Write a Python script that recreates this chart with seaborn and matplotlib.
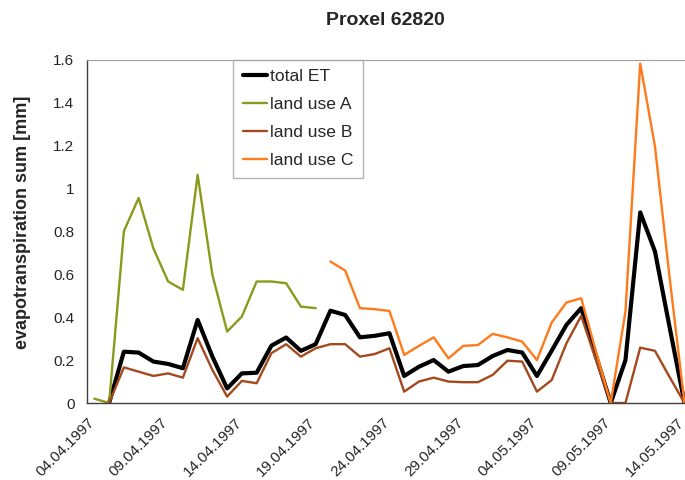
import matplotlib
matplotlib.use("Agg")
import matplotlib.pyplot as plt
import matplotlib.dates as mdates
import numpy as np
import pandas as pd
import seaborn as sns

nan = np.nan

# daily values 04.04.1997 - 14.05.1997
days = pd.date_range("1997-04-04", "1997-05-14", freq="D")

total_et = [nan, 0.0, 0.239, 0.235, 0.193, 0.182, 0.162, 0.387, 0.216, 0.068,
            0.138, 0.141, 0.267, 0.305, 0.243, 0.274, 0.43, 0.41, 0.306, 0.313,
            0.325, 0.126, 0.169, 0.2, 0.146, 0.172, 0.177, 0.219, 0.247, 0.235,
            0.126, 0.244, 0.364, 0.442, 0.22, 0.0, 0.2, 0.888, 0.706, 0.35, 0.0]
land_a = [0.02, 0.0, 0.80, 0.955, 0.72, 0.566, 0.527, 1.063, 0.597, 0.333,
          0.403, 0.566, 0.566, 0.558, 0.449, 0.442, nan, nan, nan, nan,
          nan, nan, nan, nan, nan, nan, nan, nan, nan, nan,
          nan, nan, nan, nan, nan, nan, nan, nan, nan, nan, nan]
land_b = [nan, 0.0, 0.166, 0.146, 0.126, 0.138, 0.118, 0.302, 0.154, 0.03,
          0.103, 0.092, 0.232, 0.274, 0.216, 0.255, 0.274, 0.274, 0.216, 0.228,
          0.255, 0.053, 0.1, 0.118, 0.1, 0.097, 0.097, 0.131, 0.197, 0.193,
          0.053, 0.107, 0.278, 0.406, 0.2, 0.0, 0.0, 0.258, 0.243, 0.12, 0.0]
land_c = [nan, nan, nan, nan, nan, nan, nan, nan, nan, nan,
          nan, nan, nan, nan, nan, nan, 0.659, 0.617, 0.442, 0.437,
          0.429, 0.224, 0.266, 0.306, 0.208, 0.266, 0.27, 0.322, 0.306, 0.286,
          0.2, 0.375, 0.468, 0.488, 0.24, 0.0, 0.426, 1.581, 1.195, 0.58, 0.0]

series = {"total ET": total_et, "land use A": land_a,
          "land use B": land_b, "land use C": land_c}
colors = {"total ET": "black", "land use A": "#8a9a1c",
          "land use B": "#a4481e", "land use C": "#ff7a1a"}
widths = {"total ET": 3.0, "land use A": 1.7, "land use B": 1.7, "land use C": 1.7}

sns.set_style("white")
plt.rcParams["font.family"] = ["Liberation Sans", "DejaVu Sans"]

fig = plt.figure(figsize=(6.85, 4.8), dpi=100)
ax = fig.add_axes([0.127, 0.1604, 0.883, 0.7156])

# points sit in the middle of each day (between tick marks)
x = days + pd.Timedelta(hours=12)
for name, vals in series.items():
    df = pd.DataFrame({"date": x, "et": vals})
    sns.lineplot(data=df, x="date", y="et", ax=ax, color=colors[name],
                 lw=widths[name], label=name, estimator=None)

ax.set_xlim(days[0], days[-1] + pd.Timedelta(days=1))
ax.set_ylim(0, 1.6)
ax.set_yticks(np.arange(0, 1.61, 0.2))
ax.set_yticklabels(["0", "0.2", "0.4", "0.6", "0.8", "1", "1.2", "1.4", "1.6"])

major = days[::5]
ax.set_xticks(major)
ax.set_xticklabels([d.strftime("%d.%m.%Y") for d in major], rotation=45,
                   ha="right", rotation_mode="anchor")
ax.xaxis.set_minor_locator(mdates.DayLocator())

ax.tick_params(axis="y", which="major", direction="inout", length=6,
               width=1, color="#404040", labelsize=11, pad=6)
ax.tick_params(axis="x", which="major", direction="inout", length=8,
               width=1, color="#404040", labelsize=11, pad=5)
ax.tick_params(axis="x", which="minor", direction="in", length=3.5,
               width=1, color="#404040")

for s in ["left", "bottom"]:
    ax.spines[s].set_color("#404040")
    ax.spines[s].set_linewidth(1)
ax.spines["top"].set_color("#a0a0a0")
ax.spines["right"].set_visible(False)

ax.set_xlabel("")
ax.set_ylabel("evapotranspiration sum [mm]", fontsize=13, fontweight="bold")
ax.yaxis.set_label_coords(-0.092, 0.527)
fig.suptitle("Proxel 62820", x=0.563, y=0.976, fontsize=14, fontweight="bold")

leg = ax.legend(loc="upper left", bbox_to_anchor=(0.242, 1.0), fontsize=12.6,
                frameon=True, fancybox=False, handlelength=1.4,
                handletextpad=0.15, borderpad=0.55, labelspacing=0.73,
                borderaxespad=0)
leg.get_frame().set_edgecolor("#a0a0a0")
leg.get_frame().set_linewidth(1)

fig.savefig("out.png", dpi=100)
